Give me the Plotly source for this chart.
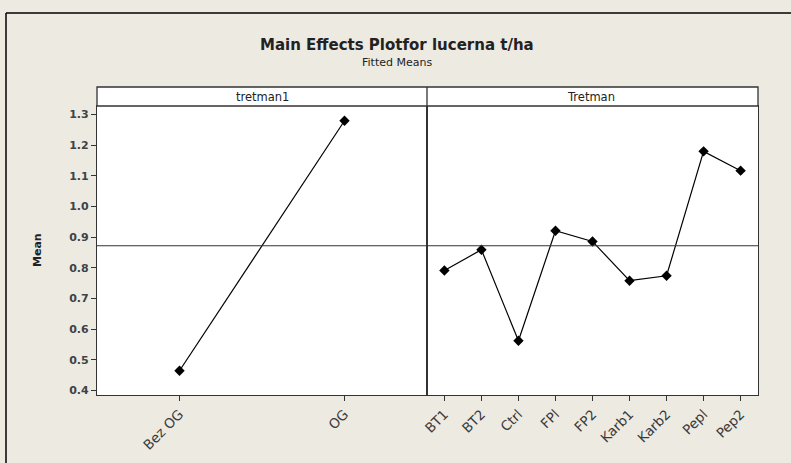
import numpy as np
import plotly.graph_objects as go
from plotly.subplots import make_subplots

# ---- data ----
tretman1_levels = ["Bez OG", "OG"]
tretman1_means = [0.464, 1.280]
tretman_levels = ["BT1", "BT2", "Ctrl", "FPl", "FP2", "Karb1", "Karb2", "Pepl", "Pep2"]
tretman_means = [0.791, 0.859, 0.562, 0.921, 0.886, 0.758, 0.774, 1.180, 1.117]
y_ticks = [0.4, 0.5, 0.6, 0.7, 0.8, 0.9, 1.0, 1.1, 1.2, 1.3]
overall_mean = float(np.mean(tretman1_means))

W, H = 791, 463
L, R, T, B = 97, 33, 106, 68
pw, ph = W - L - R, H - T - B

def px(x):
    return (x - L) / pw

def py(y):
    return (H - B - y) / ph

split = 330 / pw
bg = "#EDEAE2"
axc = "#333333"
font = "DejaVu Sans"

fig = make_subplots(rows=1, cols=2, shared_yaxes=True, horizontal_spacing=0)
fig.update_layout(xaxis=dict(domain=[0, split]), xaxis2=dict(domain=[split, 1]))

mk = dict(symbol="diamond", size=8, color="black")
fig.add_trace(go.Scatter(x=tretman1_levels, y=tretman1_means, mode="lines+markers",
                         line=dict(color="black", width=1.2), marker=mk, showlegend=False), 1, 1)
fig.add_trace(go.Scatter(x=tretman_levels, y=tretman_means, mode="lines+markers",
                         line=dict(color="black", width=1.2), marker=mk, showlegend=False), 1, 2)

xcommon = dict(type="category", tickangle=-45, ticks="outside", ticklen=5, tickcolor=axc,
               showline=True, linecolor=axc, linewidth=1.3, mirror=True, showgrid=False,
               zeroline=False, tickfont=dict(family=font, size=13.5, color="#3a3a3a"))
fig.update_xaxes(range=[-0.5, 1.5], row=1, col=1, **xcommon)
fig.update_xaxes(range=[-0.47, 8.47], row=1, col=2, **xcommon)

fig.update_yaxes(range=[0.385, 1.328], tickvals=y_ticks, ticktext=[f"<b>{v:.1f}</b>" for v in y_ticks],
                 ticks="outside", ticklen=5, tickcolor=axc, showline=True, linecolor=axc,
                 linewidth=1.3, mirror=True, showgrid=False, zeroline=False,
                 tickfont=dict(family=font, size=11, color="#3d4348"), row=1, col=1)
fig.update_yaxes(range=[0.385, 1.328], showticklabels=False, ticks="", showline=True,
                 linecolor=axc, linewidth=1.3, mirror=True, showgrid=False, zeroline=False,
                 row=1, col=2)

shapes = []
# reference line
shapes.append(dict(type="line", xref="paper", yref="y", x0=0, x1=1, y0=overall_mean, y1=overall_mean,
                   line=dict(color=axc, width=1.2)))
# strip
strip_top = py(87)
shapes.append(dict(type="rect", xref="paper", yref="paper", x0=0, x1=1, y0=1, y1=strip_top,
                   fillcolor="white", line=dict(color=axc, width=1.3)))
shapes.append(dict(type="line", xref="paper", yref="paper", x0=split, x1=split, y0=0, y1=strip_top,
                   line=dict(color=axc, width=1.3)))
# outer frame (left and top edges visible only)
shapes.append(dict(type="line", xref="paper", yref="paper", x0=px(6), x1=px(791), y0=py(13), y1=py(13),
                   line=dict(color="black", width=1.5), layer="below"))
shapes.append(dict(type="line", xref="paper", yref="paper", x0=px(6), x1=px(6), y0=py(463), y1=py(13),
                   line=dict(color="black", width=1.5), layer="below"))

annotations = [
    dict(text="<b>Main Effects Plotfor lucerna t/ha</b>", x=px(397), y=py(45), xref="paper", yref="paper",
         showarrow=False, font=dict(family=font, size=15, color="#222"), xanchor="center", yanchor="middle"),
    dict(text="Fitted Means", x=px(397), y=py(62), xref="paper", yref="paper",
         showarrow=False, font=dict(family=font, size=11, color="#222"), xanchor="center", yanchor="middle"),
    dict(text="tretman1", x=px(262), y=py(96.5), xref="paper", yref="paper",
         showarrow=False, font=dict(family=font, size=11.5, color="#222"), xanchor="center", yanchor="middle"),
    dict(text="Tretman", x=px(591), y=py(96.5), xref="paper", yref="paper",
         showarrow=False, font=dict(family=font, size=11.5, color="#222"), xanchor="center", yanchor="middle"),
    dict(text="<b>Mean</b>", x=px(37), y=py(250), xref="paper", yref="paper", textangle=-90,
         showarrow=False, font=dict(family=font, size=11, color="#222"), xanchor="center", yanchor="middle"),
]

fig.update_layout(width=W, height=H, margin=dict(l=L, r=R, t=T, b=B, autoexpand=False),
                  paper_bgcolor=bg, plot_bgcolor="white", shapes=shapes, annotations=annotations,
                  showlegend=False)

fig.write_html("out.html", config={"displayModeBar": False},
               post_script=("document.documentElement.style.overflow='hidden';"
                            "document.documentElement.style.background='" + bg + "';"
                            "document.body.style.margin='0';document.body.style.overflow='hidden';"
                            "document.body.style.background='" + bg + "';"))
